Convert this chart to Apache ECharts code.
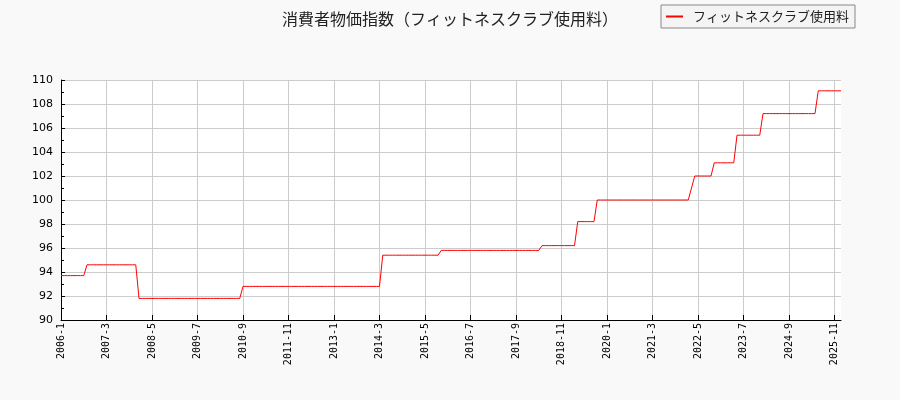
<!DOCTYPE html>
<html><head><meta charset="utf-8">
<script src="https://cdn.jsdelivr.net/npm/echarts@6/dist/echarts.min.js"></script>
<style>html,body{margin:0;padding:0;background:#f9f9f9}#c{width:900px;height:400px}</style>
</head><body><div id="c"></div>
<script>
const titleText = '消費者物価指数（フィットネスクラブ使用料）';
const seriesName = 'フィットネスクラブ使用料';
// months 2006-1 .. 2026-1
const months = [];
for (let y = 2006; y <= 2026; y++) for (let m = 1; m <= 12; m++) { if (y === 2026 && m > 1) break; months.push(y + '-' + m); }
const values = [
  93.7,93.7,93.7,93.7,93.7,93.7,93.7,93.7,94.6,94.6,94.6,94.6, // 2006
  94.6,94.6,94.6,94.6,94.6,94.6,94.6,94.6,94.6,94.6,94.6,94.6, // 2007
  91.8,91.8,91.8,91.8,91.8,91.8,91.8,91.8,91.8,91.8,91.8,91.8, // 2008
  91.8,91.8,91.8,91.8,91.8,91.8,91.8,91.8,91.8,91.8,91.8,91.8, // 2009
  91.8,91.8,91.8,91.8,91.8,91.8,91.8,91.8,92.8,92.8,92.8,92.8, // 2010
  92.8,92.8,92.8,92.8,92.8,92.8,92.8,92.8,92.8,92.8,92.8,92.8, // 2011
  92.8,92.8,92.8,92.8,92.8,92.8,92.8,92.8,92.8,92.8,92.8,92.8, // 2012
  92.8,92.8,92.8,92.8,92.8,92.8,92.8,92.8,92.8,92.8,92.8,92.8, // 2013
  92.8,92.8,92.8,95.4,95.4,95.4,95.4,95.4,95.4,95.4,95.4,95.4, // 2014
  95.4,95.4,95.4,95.4,95.4,95.4,95.4,95.4,95.4,95.8,95.8,95.8, // 2015
  95.8,95.8,95.8,95.8,95.8,95.8,95.8,95.8,95.8,95.8,95.8,95.8, // 2016
  95.8,95.8,95.8,95.8,95.8,95.8,95.8,95.8,95.8,95.8,95.8,95.8, // 2017
  95.8,95.8,95.8,95.8,96.2,96.2,96.2,96.2,96.2,96.2,96.2,96.2, // 2018
  96.2,96.2,96.2,98.2,98.2,98.2,98.2,98.2,98.2,100.0,100.0,100.0, // 2019
  100.0,100.0,100.0,100.0,100.0,100.0,100.0,100.0,100.0,100.0,100.0,100.0, // 2020
  100.0,100.0,100.0,100.0,100.0,100.0,100.0,100.0,100.0,100.0,100.0,100.0, // 2021
  100.0,100.0,101.0,102.0,102.0,102.0,102.0,102.0,102.0,103.1,103.1,103.1, // 2022
  103.1,103.1,103.1,103.1,105.4,105.4,105.4,105.4,105.4,105.4,105.4,105.4, // 2023
  107.2,107.2,107.2,107.2,107.2,107.2,107.2,107.2,107.2,107.2,107.2,107.2, // 2024
  107.2,107.2,107.2,107.2,107.2,109.1,109.1,109.1,109.1,109.1,109.1,109.1, // 2025
  109.1 // 2026-1
];
const yMin = 90, yMax = 110, yStep = 2;
const labelEvery = 14;

const chart = echarts.init(document.getElementById('c'));
chart.setOption({
  backgroundColor: '#f9f9f9',
  animation: false,
  title: {
    text: titleText, left: 'center', top: 6,
    textStyle: { fontFamily: 'Noto Sans CJK JP', fontSize: 16, fontWeight: 'normal', color: '#222' }
  },
  legend: {
    data: [seriesName], left: 661, top: 5,
    padding: [5, 6, 5, 5],
    borderColor: '#888', borderWidth: 1, borderRadius: 0,
    backgroundColor: '#f4f4f4',
    itemWidth: 17, itemHeight: 2, icon: 'rect', itemGap: 5,
    textStyle: { fontFamily: 'Noto Sans CJK JP', fontSize: 13, color: '#222', padding: [0, 0, 0, 5] }
  },
  grid: { left: 61, right: 59, top: 80, bottom: 80, show: true, backgroundColor: '#ffffff', borderWidth: 0 },
  xAxis: {
    type: 'category', data: months, boundaryGap: false,
    axisLine: { lineStyle: { color: '#000', width: 1 } },
    axisTick: { inside: true, length: 5, interval: labelEvery - 1, lineStyle: { color: '#000' } },
    axisLabel: { interval: labelEvery - 1, rotate: 90, fontFamily: 'DejaVu Sans Mono', fontSize: 10, color: '#000', margin: 3 },
    splitLine: { show: true, interval: labelEvery - 1, lineStyle: { color: '#cccccc', width: 1 } }
  },
  yAxis: {
    type: 'value', min: yMin, max: yMax, interval: yStep,
    axisLine: { show: true, lineStyle: { color: '#000', width: 1 } },
    axisTick: { show: true, inside: true, length: 4, lineStyle: { color: '#000' } },
    minorTick: { show: true, splitNumber: 2, length: 3, lineStyle: { color: '#000' } },
    axisLabel: { fontFamily: 'DejaVu Sans', fontSize: 11, color: '#000', margin: 8 },
    splitLine: { show: true, lineStyle: { color: '#cccccc', width: 1 } }
  },
  series: [{
    name: seriesName, type: 'line', data: values, showSymbol: false,
    lineStyle: { color: '#ff0000', width: 1 }, itemStyle: { color: '#ff0000' }
  }]
});
</script></body></html>
